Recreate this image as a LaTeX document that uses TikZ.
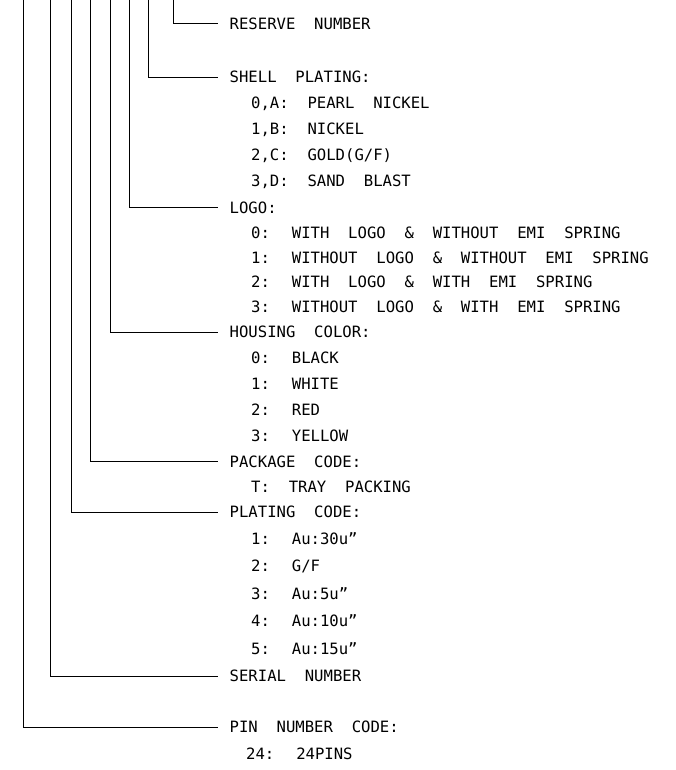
\documentclass[tikz,border=0pt]{standalone}
\usepackage{fontspec}
\newfontfamily\cadfont{DejaVu Sans Mono}[WordSpace=2]
\usepackage{tikz}
\usetikzlibrary{positioning}

\begin{document}
\begin{tikzpicture}
[
x=1pt, y=-1pt,
headnode/.style={anchor=west, inner xsep=11.5pt, inner ysep=0pt, text height=11.4pt, text depth=0pt, font=\cadfont\fontsize{15.6}{18}\selectfont},
itemnode/.style={anchor=west, inner sep=0pt, text height=11.4pt, text depth=0pt, font=\cadfont\fontsize{15.6}{18}\selectfont},
leader/.style={draw, line width=0.8pt},
]
\useasboundingbox (0,0) rectangle (675,770);

%Top ends
\coordinate (t-pin)     at (23,0);
\coordinate (t-serial)  at (50,0);
\coordinate (t-plating) at (71,0);
\coordinate (t-package) at (90,0);
\coordinate (t-housing) at (110,0);
\coordinate (t-logo)    at (129,0);
\coordinate (t-shell)   at (148,0);
\coordinate (t-reserve) at (173,0);

%Nodes
\node[headnode] (reserve) at (218,23.5) {RESERVE NUMBER};

\node[headnode] (shell)   at (218,77)  {SHELL PLATING:};
\node[itemnode] (shell-0) at (251,103) {0,A: PEARL NICKEL};
\node[itemnode] (shell-1) at (251,129) {1,B: NICKEL};
\node[itemnode] (shell-2) at (251,155) {2,C: GOLD(G/F)};
\node[itemnode] (shell-3) at (251,181) {3,D: SAND BLAST};

\node[headnode] (logo)   at (218,207.5) {LOGO:};
\node[itemnode] (logo-0) at (251,232.5) {0: WITH LOGO \& WITHOUT EMI SPRING};
\node[itemnode] (logo-1) at (251,257.5) {1: WITHOUT LOGO \& WITHOUT EMI SPRING};
\node[itemnode] (logo-2) at (251,282)   {2: WITH LOGO \& WITH EMI SPRING};
\node[itemnode] (logo-3) at (251,307)   {3: WITHOUT LOGO \& WITH EMI SPRING};

\node[headnode] (housing)   at (218,332)   {HOUSING COLOR:};
\node[itemnode] (housing-0) at (251,358)   {0: BLACK};
\node[itemnode] (housing-1) at (251,384)   {1: WHITE};
\node[itemnode] (housing-2) at (251,410)   {2: RED};
\node[itemnode] (housing-3) at (251,436)   {3: YELLOW};

\node[headnode] (package)   at (218,461.5) {PACKAGE CODE:};
\node[itemnode] (package-T) at (251,487)   {T: TRAY PACKING};

\node[headnode] (plating)   at (218,512) {PLATING CODE:};
\node[itemnode] (plating-1) at (251,539) {1: Au:30u”};
\node[itemnode] (plating-2) at (251,566) {2: G/F};
\node[itemnode] (plating-3) at (251,594) {3: Au:5u”};
\node[itemnode] (plating-4) at (251,621) {4: Au:10u”};
\node[itemnode] (plating-5) at (251,649) {5: Au:15u”};

\node[headnode] (serial) at (218,676) {SERIAL NUMBER};

\node[headnode] (pin)    at (218,727) {PIN NUMBER CODE:};
\node[itemnode] (pin-24) at (246,754) {24: 24PINS};

%Lines
\draw[leader] (t-reserve) |- (reserve);
\draw[leader] (t-shell)   |- (shell);
\draw[leader] (t-logo)    |- (logo);
\draw[leader] (t-housing) |- (housing);
\draw[leader] (t-package) |- (package);
\draw[leader] (t-plating) |- (plating);
\draw[leader] (t-serial)  |- (serial);
\draw[leader] (t-pin)     |- (pin);

\end{tikzpicture}
\end{document}
